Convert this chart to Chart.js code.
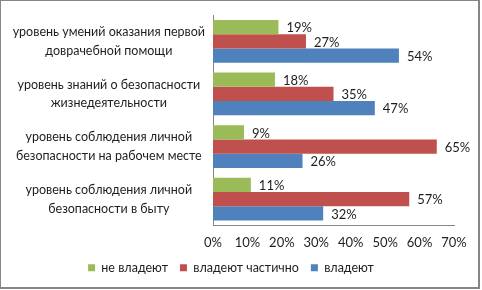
<!DOCTYPE html>
<html lang="ru">
  <head>
    <meta charset="UTF-8" />
    <title>Bar</title>
    <style>
      html, body { margin: 0; padding: 0; background: #fff; }
      .frame { position: relative; width: 482px; height: 290px; }
      .frame .border {
        position: absolute; left: 0; top: 0; width: 477px; height: 286px;
        border: 1px solid #868686; border-right-width: 2px; border-bottom-width: 2px;
        pointer-events: none;
      }
    </style>
    <script src="https://cdn.jsdelivr.net/npm/chart.js@4.4.0/dist/chart.umd.min.js"></script>
  </head>
  <body>
    <div class="frame">
      <canvas id="chart" width="482" height="290"></canvas>
      <div class="border"></div>
    </div>

    <script>
      //data
      const categories = [
        ['уровень умений оказания первой', 'доврачебной помощи'],
        ['уровень знаний о безопасности', 'жизнедеятельности'],
        ['уровень соблюдения личной', 'безопасности на рабочем месте'],
        ['уровень соблюдения личной', 'безопасности в быту']
      ];
      const seriesNames = ['не владеют', 'владеют частично', 'владеют'];
      const notOwn = [19, 18, 9, 11];
      const partlyOwn = [27, 35, 65, 57];
      const own = [54, 47, 26, 32];

      const FONT = 'Lato, "Liberation Sans", sans-serif';
      const TEXT = '#1e1e1e';

      // value labels to the right of each bar
      const valueLabels = {
        id: 'valueLabels',
        afterDatasetsDraw(chart) {
          const ctx = chart.ctx;
          ctx.save();
          ctx.font = '13px ' + FONT;
          ctx.fillStyle = TEXT;
          ctx.textAlign = 'left';
          ctx.textBaseline = 'middle';
          chart.data.datasets.forEach((ds, i) => {
            chart.getDatasetMeta(i).data.forEach((bar, j) => {
              ctx.fillText(ds.data[j] + '%', bar.x + 8, bar.y + 1);
            });
          });
          ctx.restore();
        }
      };

      const data = {
        labels: categories,
        datasets: [
          { label: seriesNames[0], data: notOwn, backgroundColor: '#9BBB59' },
          { label: seriesNames[1], data: partlyOwn, backgroundColor: '#C0504D' },
          { label: seriesNames[2], data: own, backgroundColor: '#4F81BD' }
        ]
      };

      //config
      const config = {
        type: 'bar',
        data: data,
        plugins: [valueLabels],
        options: {
          indexAxis: 'y',
          responsive: false,
          animation: false,
          categoryPercentage: 0.81,
          barPercentage: 1,
          layout: { padding: { left: 8, right: 28, top: 15, bottom: 6 } },
          scales: {
            x: {
              min: 0,
              max: 70,
              grid: { display: false, drawTicks: false },
              border: { color: '#868686' },
              ticks: {
                stepSize: 10,
                padding: 10,
                color: TEXT,
                font: { family: FONT, size: 13 },
                callback: (v) => v + '%'
              },
              afterFit(scale) { scale.height = 24; }
            },
            y: {
              grid: { display: false, drawTicks: false },
              border: { color: '#868686' },
              ticks: {
                crossAlign: 'center',
                padding: 8,
                color: TEXT,
                font: { family: FONT, size: 12.5, lineHeight: 1.5 }
              },
              afterFit(scale) {
                scale.width = 205;
                scale.paddingTop = 0;
                scale.paddingBottom = 0;
              }
            }
          },
          plugins: {
            legend: {
              position: 'bottom',
              labels: {
                boxWidth: 7,
                boxHeight: 7,
                padding: 12,
                color: TEXT,
                font: { family: FONT, size: 12.5 }
              }
            },
            tooltip: { enabled: false }
          }
        }
      };

      //init
      const chart = new Chart(document.getElementById('chart'), config);
    </script>
  </body>
</html>
